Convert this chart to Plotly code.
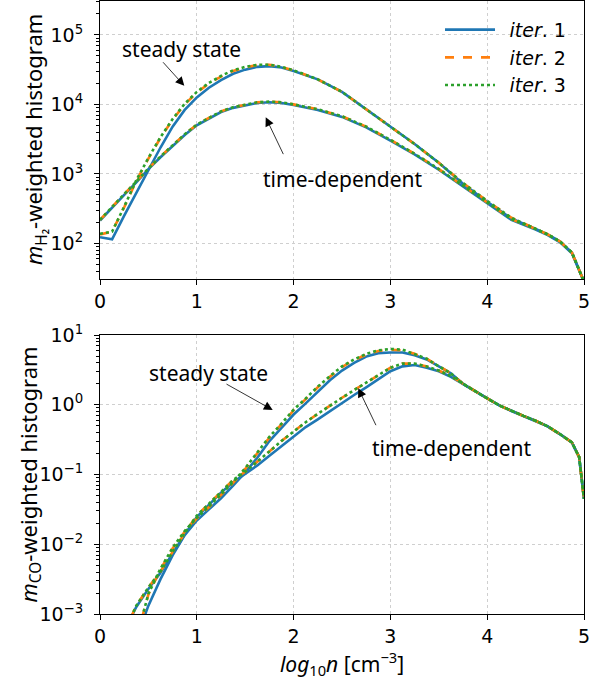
import numpy as np
import plotly.graph_objects as go
from plotly.subplots import make_subplots

# ---------------- data (log10 of histogram values) ----------------
# Top panel: m_H2-weighted histogram
x_top = [0.0, 0.125, 0.25, 0.375, 0.5, 0.625, 0.75, 0.875, 1.0, 1.125, 1.25, 1.375, 1.5,
         1.625, 1.75, 1.875, 2.0, 2.25, 2.5, 2.75, 3.0, 3.25, 3.5, 3.75, 4.0, 4.25, 4.5,
         4.625, 4.75, 4.875, 5.0]
top_ss_it1 = [2.09, 2.06, 2.40, 2.73, 3.05, 3.38, 3.68, 3.92, 4.10, 4.24, 4.35, 4.44, 4.50,
              4.54, 4.55, 4.53, 4.48, 4.36, 4.18, 3.93, 3.69, 3.43, 3.16, 2.86, 2.60, 2.36, 2.21,
              2.13, 2.03, 1.87, 1.45]
top_ss_it2 = [2.13, 2.17, 2.52, 2.90, 3.22, 3.52, 3.78, 4.00, 4.17, 4.30, 4.40, 4.48, 4.53,
              4.57, 4.57, 4.54, 4.49, 4.36, 4.18, 3.93, 3.69, 3.43, 3.16, 2.87, 2.61, 2.37, 2.21,
              2.13, 2.03, 1.87, 1.45]
top_ss_it3 = [2.14, 2.17, 2.53, 2.91, 3.23, 3.53, 3.79, 4.01, 4.18, 4.31, 4.41, 4.49, 4.54,
              4.57, 4.57, 4.54, 4.49, 4.36, 4.18, 3.93, 3.69, 3.43, 3.16, 2.87, 2.61, 2.37, 2.21,
              2.13, 2.03, 1.87, 1.45]
top_td_it1 = [2.33, 2.52, 2.70, 2.88, 3.07, 3.24, 3.40, 3.56, 3.70, 3.80, 3.89, 3.95, 3.99,
              4.02, 4.03, 4.02, 3.99, 3.92, 3.82, 3.67, 3.48, 3.28, 3.06, 2.82, 2.58, 2.34, 2.20,
              2.12, 2.02, 1.86, 1.45]
top_td_it2 = [2.34, 2.53, 2.71, 2.89, 3.08, 3.25, 3.41, 3.57, 3.71, 3.81, 3.90, 3.96, 4.00,
              4.03, 4.04, 4.03, 4.00, 3.93, 3.83, 3.68, 3.49, 3.29, 3.07, 2.83, 2.59, 2.35, 2.21,
              2.13, 2.03, 1.87, 1.45]
top_td_it3 = top_td_it2

# Bottom panel: m_CO-weighted histogram
x_bot_ss1 = [0.455, 0.5, 0.625, 0.75, 0.875, 1.0, 1.125, 1.25, 1.375, 1.5, 1.625, 1.75, 1.875,
             2.0, 2.125, 2.25, 2.375, 2.5, 2.625, 2.75, 2.875, 3.0, 3.125, 3.25, 3.375, 3.5,
             3.625, 3.75, 3.875, 4.0, 4.125, 4.25, 4.375, 4.5, 4.625, 4.75, 4.875, 4.95, 5.0]
bot_ss_it1 = [-3.05, -2.88, -2.50, -2.16, -1.87, -1.66, -1.50, -1.34, -1.16, -0.97, -0.76, -0.52,
              -0.33, -0.14, 0.02, 0.19, 0.35, 0.49, 0.60, 0.69, 0.74, 0.75, 0.75, 0.71, 0.65, 0.55,
              0.45, 0.30, 0.19, 0.09, -0.01, -0.09, -0.16, -0.23, -0.31, -0.42, -0.54, -0.75, -1.35]
x_bot_ss2 = [0.435, 0.5, 0.625, 0.75, 0.875, 1.0, 1.125, 1.25, 1.375, 1.5, 1.625, 1.75, 1.875,
             2.0, 2.125, 2.25, 2.375, 2.5, 2.625, 2.75, 2.875, 3.0, 3.125, 3.25, 3.375, 3.5,
             3.625, 3.75, 3.875, 4.0, 4.125, 4.25, 4.375, 4.5, 4.625, 4.75, 4.875, 4.95, 5.0]
bot_ss_it2 = [-3.05, -2.72, -2.36, -2.06, -1.82, -1.63, -1.47, -1.30, -1.12, -0.92, -0.70, -0.47,
              -0.28, -0.08, 0.08, 0.25, 0.40, 0.54, 0.64, 0.72, 0.77, 0.79, 0.78, 0.73, 0.66, 0.55,
              0.45, 0.30, 0.19, 0.09, -0.01, -0.09, -0.16, -0.23, -0.31, -0.42, -0.54, -0.75, -1.35]
bot_ss_it3 = [-3.05, -2.71, -2.35, -2.05, -1.81, -1.62, -1.46, -1.29, -1.11, -0.91, -0.69, -0.46,
              -0.27, -0.07, 0.09, 0.26, 0.41, 0.55, 0.65, 0.73, 0.78, 0.80, 0.79, 0.73, 0.66, 0.55,
              0.45, 0.30, 0.19, 0.09, -0.01, -0.09, -0.16, -0.23, -0.31, -0.42, -0.54, -0.75, -1.35]
x_bot_td = [0.32, 0.375, 0.5, 0.625, 0.75, 0.875, 1.0, 1.125, 1.25, 1.375, 1.5, 1.625, 1.75,
            1.875, 2.0, 2.125, 2.25, 2.375, 2.5, 2.625, 2.75, 2.875, 3.0, 3.125, 3.25, 3.375,
            3.5, 3.625, 3.75, 3.875, 4.0, 4.125, 4.25, 4.375, 4.5, 4.625, 4.75, 4.875, 4.95, 5.0]
bot_td_it1 = [-3.05, -2.90, -2.64, -2.41, -2.13, -1.86, -1.61, -1.43, -1.26, -1.11, -0.99, -0.87,
              -0.73, -0.59, -0.45, -0.32, -0.21, -0.09, 0.03, 0.14, 0.25, 0.37, 0.48, 0.55, 0.57,
              0.53, 0.48, 0.40, 0.30, 0.19, 0.09, -0.01, -0.09, -0.16, -0.23, -0.31, -0.42, -0.54,
              -0.75, -1.35]
bot_td_it2 = [-3.05, -2.88, -2.62, -2.39, -2.11, -1.84, -1.59, -1.42, -1.25, -1.08, -0.96, -0.82,
              -0.67, -0.52, -0.38, -0.25, -0.13, -0.01, 0.10, 0.21, 0.32, 0.43, 0.53, 0.59, 0.59,
              0.55, 0.49, 0.41, 0.30, 0.19, 0.09, -0.01, -0.09, -0.16, -0.23, -0.31, -0.42, -0.54,
              -0.75, -1.35]
bot_td_it3 = bot_td_it2

top_ticks = [1e2, 1e3, 1e4, 1e5]
top_ticktext = ["10<sup>2</sup>", "10<sup>3</sup>", "10<sup>4</sup>", "10<sup>5</sup>"]
bot_ticks = [1e-3, 1e-2, 1e-1, 1e0, 1e1]
bot_ticktext = ["10<sup>\u22123</sup>", "10<sup>\u22122</sup>", "10<sup>\u22121</sup>",
                "10<sup>0</sup>", "10<sup>1</sup>"]
x_ticks = [0, 1, 2, 3, 4, 5]
legend_names = ["\u2002<i>iter</i>. 1", "\u2002<i>iter</i>. 2", "\u2002<i>iter</i>. 3"]
top_ylabel = "<i>m</i><sub>H\u2082</sub>-weighted histogram"
bot_ylabel = "<i>m</i><sub>CO</sub>-weighted histogram"
xlabel = "<i>log</i><sub>10</sub><i>n</i> [cm<sup>\u22123</sup>]"

# ---------------- figure ----------------
colors = ["#1f77b4", "#ff7f0e", "#2ca02c"]
dashes = ["solid", "dash", "dot"]
widths = [2.6, 2.6, 2.6]

fig = make_subplots(rows=2, cols=1, vertical_spacing=0.0)

def add(x, logy, i, row, show):
    fig.add_trace(go.Scatter(x=x, y=np.power(10.0, np.array(logy)), mode="lines",
                             line=dict(color=colors[i], dash=dashes[i], width=widths[i]),
                             name=legend_names[i], showlegend=show, legendgroup=str(i)),
                  row=row, col=1)

for i, (ss, td) in enumerate([(top_ss_it1, top_td_it1), (top_ss_it2, top_td_it2), (top_ss_it3, top_td_it3)]):
    add(x_top, ss, i, 1, True)
    add(x_top, td, i, 1, False)

for i, (xs, ss, td) in enumerate([(x_bot_ss1, bot_ss_it1, bot_td_it1), (x_bot_ss2, bot_ss_it2, bot_td_it2),
                                  (x_bot_ss2, bot_ss_it3, bot_td_it3)]):
    add(xs, ss, i, 2, False)
    add(x_bot_td, td, i, 2, False)

H = 681
PH = H - 1 - 67
top_dom = [(614 - 279) / PH, 1.0]
bot_dom = [0.0, (614 - 335) / PH]

def minor_vals(lo, hi):
    v = []
    for d in range(lo, hi):
        for k in range(2, 10):
            v.append(k * 10.0 ** d)
    return v

tickfont = dict(family="DejaVu Sans", size=19, color="black")
gridc = "#cfcfcf"
common_x = dict(range=[0, 5], tickvals=x_ticks, ticks="outside", ticklen=5, tickcolor="black",
                showline=True, linecolor="black", linewidth=1, mirror=True,
                showgrid=True, gridcolor=gridc, griddash="dot", gridwidth=1,
                zeroline=False, tickfont=tickfont, automargin=False)
common_y = dict(type="log", ticks="outside", ticklen=5, tickcolor="black",
                showline=True, linecolor="black", linewidth=1, mirror=True,
                showgrid=True, gridcolor=gridc, griddash="dot", gridwidth=1,
                zeroline=False, tickfont=tickfont, automargin=False, ticklabelstandoff=7)

fig.update_xaxes(**common_x)
fig.update_yaxes(**common_y)

fig.update_layout(
    width=608, height=681,
    margin=dict(l=100, r=24, t=1, b=67, autoexpand=False),
    plot_bgcolor="white", paper_bgcolor="white",
    xaxis=dict(domain=[0, 1], showticklabels=True),
    yaxis=dict(domain=top_dom, range=[1.489, 5.487], tickvals=top_ticks, ticktext=top_ticktext,
               minor=dict(tickmode="array", tickvals=minor_vals(1, 6), ticks="outside", ticklen=3,
                          tickcolor="black", showgrid=False)),
    xaxis2=dict(domain=[0, 1],
                title=dict(text=xlabel,
                           font=dict(family="Noto Sans", size=21, color="black"), standoff=4)),
    yaxis2=dict(domain=bot_dom, range=[-3, 1], tickvals=bot_ticks, ticktext=bot_ticktext,
                minor=dict(tickmode="array", tickvals=minor_vals(-3, 1), ticks="outside", ticklen=3,
                           tickcolor="black", showgrid=False)),
    legend=dict(x=0.7025, y=0.984, xanchor="left", yanchor="top", bgcolor="rgba(0,0,0,0)",
                font=dict(family="DejaVu Sans", size=19, color="black"), itemwidth=50,
                tracegroupgap=0),
)

ann_font = dict(family="Noto Sans", size=21, color="black")
title_font = dict(family="Noto Sans", size=22, color="black")
arrow_kw = dict(showarrow=True, text="", arrowhead=2, arrowsize=2.2, arrowwidth=0.8,
                arrowcolor="black", standoff=0, startstandoff=0)
xt_top = (35 - 100) / 484.0
xt_bot = (29 - 100) / 484.0
annotations = [
    # y-axis labels
    dict(x=xt_top, y=(top_dom[0] + top_dom[1]) / 2, xref="paper", yref="paper", text=top_ylabel,
         textangle=-90, showarrow=False, font=title_font, xanchor="center", yanchor="middle"),
    dict(x=xt_bot, y=(bot_dom[0] + bot_dom[1]) / 2, xref="paper", yref="paper", text=bot_ylabel,
         textangle=-90, showarrow=False, font=title_font, xanchor="center", yanchor="middle"),
    # top panel texts
    dict(x=0.847, y=4.798, xref="x", yref="y", text="steady state", showarrow=False, font=ann_font),
    dict(x=2.51, y=2.921, xref="x", yref="y", text="time-dependent", showarrow=False, font=ann_font),
    dict(x=0.871, y=4.268, xref="x", yref="y", ax=-22.6, ay=-25, **arrow_kw),
    dict(x=1.712, y=3.814, xref="x", yref="y", ax=18.3, ay=38.3, **arrow_kw),
    # bottom panel texts
    dict(x=1.116, y=0.456, xref="x2", yref="y2", text="steady state", showarrow=False, font=ann_font),
    dict(x=3.636, y=-0.619, xref="x2", yref="y2", text="time-dependent", showarrow=False, font=ann_font),
    dict(x=1.784, y=-0.0745, xref="x2", yref="y2", ax=-47.7, ay=-26.7, **arrow_kw),
    dict(x=2.668, y=0.236, xref="x2", yref="y2", ax=18.4, ay=38.4, **arrow_kw),
]
fig.update_layout(annotations=annotations)

fig.write_html("out.html")
